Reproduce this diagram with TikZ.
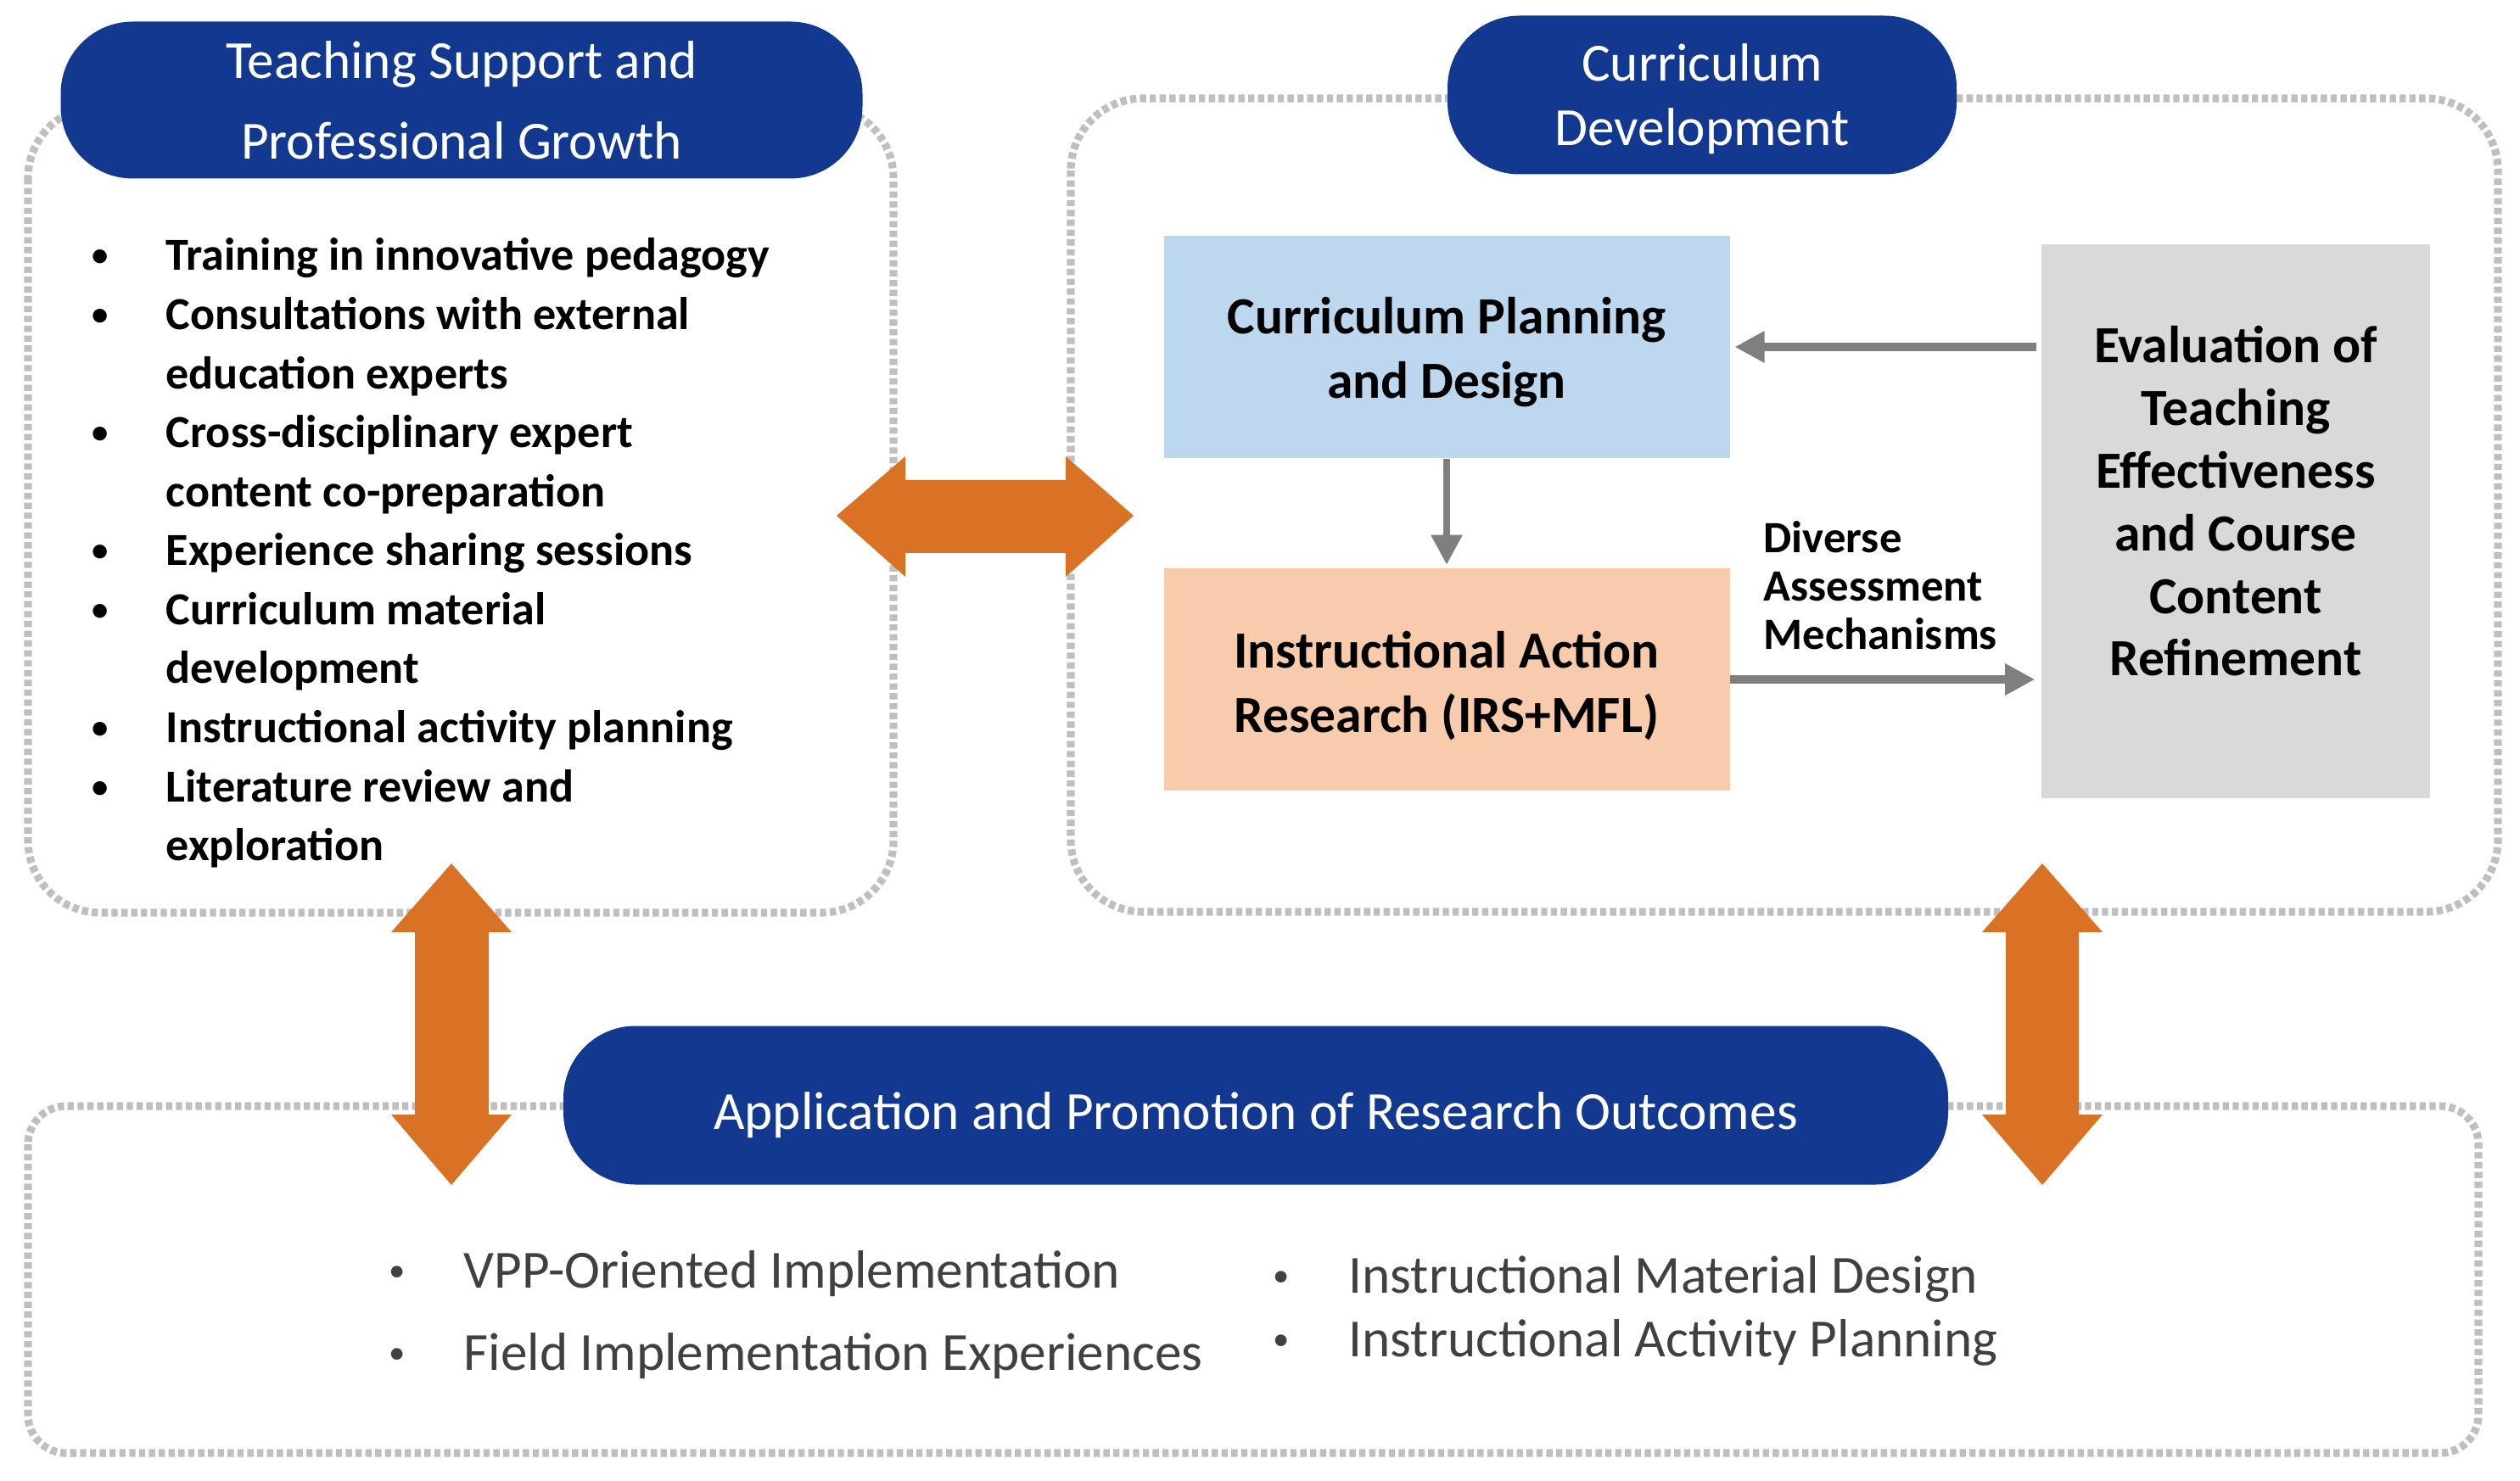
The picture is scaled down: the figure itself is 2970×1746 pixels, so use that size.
\documentclass[tikz,border=0pt]{standalone}
\usepackage{fontspec}
\setmainfont{Carlito}
\usetikzlibrary{arrows.meta}
\definecolor{pillblue}{HTML}{13388F}
\definecolor{orng}{HTML}{DA7226}
\definecolor{lblue}{HTML}{BDD7EE}
\definecolor{peach}{HTML}{F8CBAD}
\definecolor{lgray}{HTML}{D9D9D9}
\definecolor{dotgray}{HTML}{BFBFBF}
\definecolor{arrgray}{HTML}{7F7F7F}
\definecolor{txtgray}{HTML}{404040}
\newcommand\lbul{\makebox[9.1mm][l]{\hspace{0.4mm}\raisebox{1.4pt}{\fontsize{11}{11}\selectfont•}}}
\newcommand\lind{\hspace*{9.1mm}}
\newcommand\bbul[1]{\makebox[#1][l]{\hspace{0.6mm}\raisebox{2.3pt}{\fontsize{11}{11}\selectfont•}}}
\newcommand\lowr[2]{\raisebox{-#1}[\height][\depth]{#2}}
\begin{document}
\begin{tikzpicture}[x=0.1mm,y=-0.1mm,
  dotbox/.style={draw=dotgray, line width=2.6pt, dash pattern=on 2.1pt off 1.2pt},
  pill/.style={fill=pillblue, text=white, rounded corners=8.5mm, inner sep=0pt, align=center, font=\fontsize{18}{27}\selectfont},
  cbox/.style={inner sep=0pt, align=center, font=\bfseries\fontsize{17.5}{21.6}\selectfont, minimum width=66.7mm, minimum height=26.2mm},
  garrow/.style={draw=arrgray, line width=3pt, -{Triangle[length=10pt,width=10pt]}},
  btxt/.style={text=txtgray, font=\fontsize{18}{22}\selectfont, anchor=west, inner sep=0pt},
]
\useasboundingbox (0,0) rectangle (2970,1746);
% dotted frames
\draw[dotbox, rounded corners=8.5mm] (33,125) rectangle (1053,1076);
\draw[dotbox, rounded corners=8.5mm] (1262,116) rectangle (2944,1075);
\draw[dotbox, rounded corners=4.5mm] (33,1304) rectangle (2921,1713);
% pills
\node[pill, minimum width=94.5mm, minimum height=18.5mm] (tsp) at (544,118) {Teaching Support and\\Professional Growth};
\node[pill, minimum width=60mm, minimum height=18.7mm, font=\fontsize{18}{21.6}\selectfont] (cd) at (2006,112) {\lowr{1.7pt}{\begin{tabular}{@{}c@{}}Curriculum\\Development\end{tabular}}};
\node[pill, minimum width=163.2mm, minimum height=18.7mm] (apr) at (1480,1303) {\lowr{3.2pt}{Application and Promotion of Research Outcomes}};
% left list
\node[anchor=west, align=left, inner sep=0pt, font=\bfseries\fontsize{15.4}{19.8}\selectfont] (tsplist) at (104,652)
{\lbul Training in innovative pedagogy\\
 \lbul Consultations with external\\
 \lind education experts\\
 \lbul Cross-disciplinary expert\\
 \lind content co-preparation\\
 \lbul Experience sharing sessions\\
 \lbul Curriculum material\\
 \lind development\\
 \lbul Instructional activity planning\\
 \lbul Literature review and\\
 \lind exploration};
% curriculum boxes
\node[cbox, fill=lblue] (plan) at (1705,409) {\lowr{2.2pt}{\begin{tabular}{@{}c@{}}Curriculum Planning\\and Design\end{tabular}}};
\node[cbox, fill=peach] (iar) at (1705,801) {\lowr{2.6pt}{\begin{tabular}{@{}c@{}}Instructional Action\\Research (IRS+MFL)\end{tabular}}};
\node[fill=lgray, inner sep=0pt, minimum width=45.8mm, minimum height=65.3mm] (eval) at (2635,615) {};
\node[align=center, inner sep=0pt, font=\bfseries\fontsize{17.5}{21}\selectfont] (evaltxt) at (2635,591)
{Evaluation of\\Teaching\\Effectiveness\\and Course\\Content\\Refinement};
\node[anchor=west, align=left, inner sep=0pt, font=\bfseries\fontsize{15}{16.2}\selectfont] (dam) at (2078,690)
{Diverse\\Assessment\\Mechanisms};
% gray arrows
\draw[garrow, shorten <=1.5pt, shorten >=1.5pt] (plan.east -| eval.west) -- (plan.east);
\draw[garrow, line width=2.3pt, shorten >=1pt] (plan.south) -- (iar.north);
\draw[garrow, shorten >=2pt] (iar.east) -- (iar.east -| eval.west);
% orange double arrows
\fill[orng] (986,608) -- (1067,538) -- (1067,566) -- (1256,566) -- (1256,538) -- (1336,608) -- (1256,680) -- (1256,652) -- (1067,652) -- (1067,680) -- cycle;
\fill[orng] (532,1018) -- (603,1099) -- (576,1099) -- (576,1314) -- (603,1314) -- (532,1397) -- (461,1314) -- (489,1314) -- (489,1099) -- (461,1099) -- cycle;
\fill[orng] (2407,1018) -- (2478,1099) -- (2450,1099) -- (2450,1314) -- (2478,1314) -- (2407,1397) -- (2336,1314) -- (2364,1314) -- (2364,1099) -- (2336,1099) -- cycle;
% bottom items
\node[btxt] (b1) at (452,1502) {\bbul{9.4mm}VPP-Oriented Implementation};
\node[btxt] (b2) at (452,1599) {\bbul{9.4mm}Field Implementation Experiences};
\node[btxt] (b3) at (1494,1508) {\bbul{9.5mm}Instructional Material Design};
\node[btxt] (b4) at (1494,1583) {\bbul{9.5mm}Instructional Activity Planning};
\end{tikzpicture}
\end{document}
